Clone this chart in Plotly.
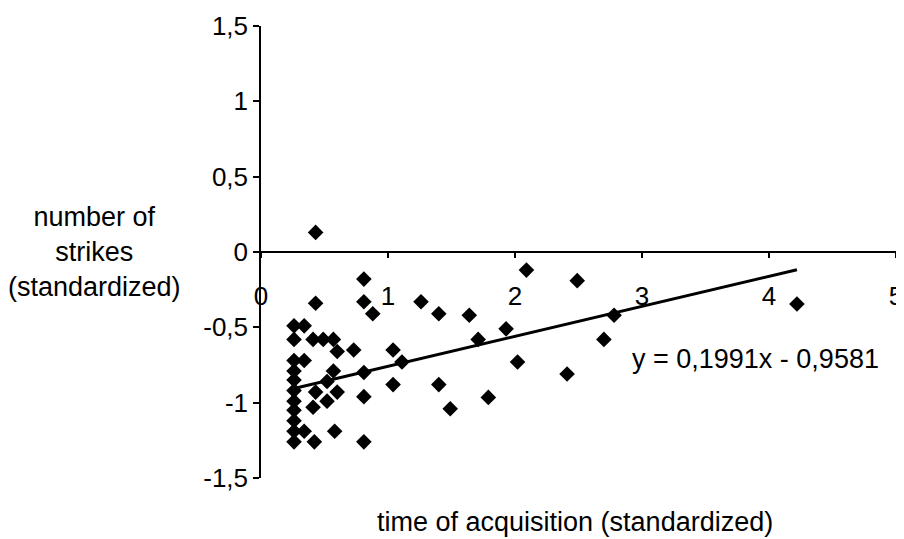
import plotly.graph_objects as go

# Data (standardized values)
time_acq = [0.26, 0.26, 0.26, 0.26, 0.26, 0.26, 0.26, 0.26, 0.26, 0.26, 0.26,
            0.34, 0.34, 0.34,
            0.43, 0.43, 0.41, 0.41, 0.42, 0.43,
            0.49, 0.52, 0.52,
            0.57, 0.60, 0.57, 0.60, 0.58,
            0.73, 0.81, 0.81, 0.81, 0.81, 0.81, 0.88,
            1.26, 1.04, 1.11, 1.04, 1.40, 1.40, 1.49,
            1.64, 1.71, 1.79, 1.93, 2.02, 2.09, 2.41, 2.49,
            2.70, 2.78, 4.22]
strikes = [-0.49, -0.58, -0.72, -0.79, -0.85, -0.92, -0.99, -1.05, -1.12, -1.19, -1.26,
           -0.49, -0.72, -1.19,
           0.13, -0.34, -0.58, -1.03, -1.26, -0.93,
           -0.58, -0.86, -0.99,
           -0.58, -0.66, -0.79, -0.93, -1.19,
           -0.65, -0.18, -0.33, -0.80, -0.96, -1.26, -0.41,
           -0.33, -0.65, -0.73, -0.88, -0.41, -0.88, -1.04,
           -0.42, -0.58, -0.965, -0.51, -0.73, -0.12, -0.81, -0.19,
           -0.58, -0.42, -0.345]

slope = 0.1991
intercept = -0.9581
trend_x = [0.26, 4.22]
trend_y = [slope * v + intercept for v in trend_x]

x_ticks = [0, 1, 2, 3, 4, 5]
x_tick_text = ["0", "1", "2", "3", "4", "5"]
y_ticks = [-1.5, -1.0, -0.5, 0, 0.5, 1.0, 1.5]
y_tick_text = ["-1,5", "-1", "-0,5", "0", "0,5", "1", "1,5"]

equation = "y = 0,1991x - 0,9581"
x_title = "time of acquisition (standardized)"
y_title = "number of<br>strikes<br>(standardized)"

FONT = "Liberation Sans, Arial, sans-serif"

fig = go.Figure()
fig.add_trace(go.Scatter(
    x=trend_x, y=trend_y, mode="lines",
    line=dict(color="black", width=3), showlegend=False, hoverinfo="skip"))
fig.add_trace(go.Scatter(
    x=time_acq, y=strikes, mode="markers",
    marker=dict(symbol="diamond", size=12, color="black"),
    showlegend=False, cliponaxis=False))

# The page body has an 8px margin, so the figure is sized/offset to compensate.
fig.update_layout(
    width=896, height=531,
    paper_bgcolor="white", plot_bgcolor="white",
    margin=dict(l=253, r=8, t=18, b=61, autoexpand=False),
    font=dict(family=FONT, size=26, color="black"),
    xaxis=dict(
        range=[0, 5], tickvals=x_ticks, ticktext=x_tick_text,
        showgrid=False, zeroline=False, showline=True, linecolor="black", linewidth=1.5,
        ticks="outside", ticklen=5, tickwidth=1.5, tickcolor="black",
        anchor="free", position=0.5, ticklabelstandoff=16, automargin=False,
        tickfont=dict(size=26, family=FONT)),
    yaxis=dict(
        range=[-1.5, 1.5], tickvals=y_ticks, ticktext=y_tick_text,
        showgrid=False, zeroline=False, showline=True, linecolor="black", linewidth=1.5,
        ticks="outside", ticklen=6, tickwidth=1.5, tickcolor="black", automargin=False,
        tickfont=dict(size=26, family=FONT)),
    annotations=[
        dict(x=2.906, y=-0.71, xref="x", yref="y", text=equation, showarrow=False,
             xanchor="left", yanchor="middle", font=dict(size=27, family=FONT)),
        dict(x=(575 - 261) / 635, y=(478 - 522) / 452, xref="paper", yref="paper",
             text=x_title, showarrow=False, xanchor="center", yanchor="middle",
             font=dict(size=27, family=FONT)),
        dict(x=(95 - 261) / 635, y=0.5, xref="paper", yref="paper",
             text=y_title, showarrow=False, xanchor="center", yanchor="middle",
             align="center", font=dict(size=27, family=FONT)),
    ],
)

fig.write_html("out.html")
